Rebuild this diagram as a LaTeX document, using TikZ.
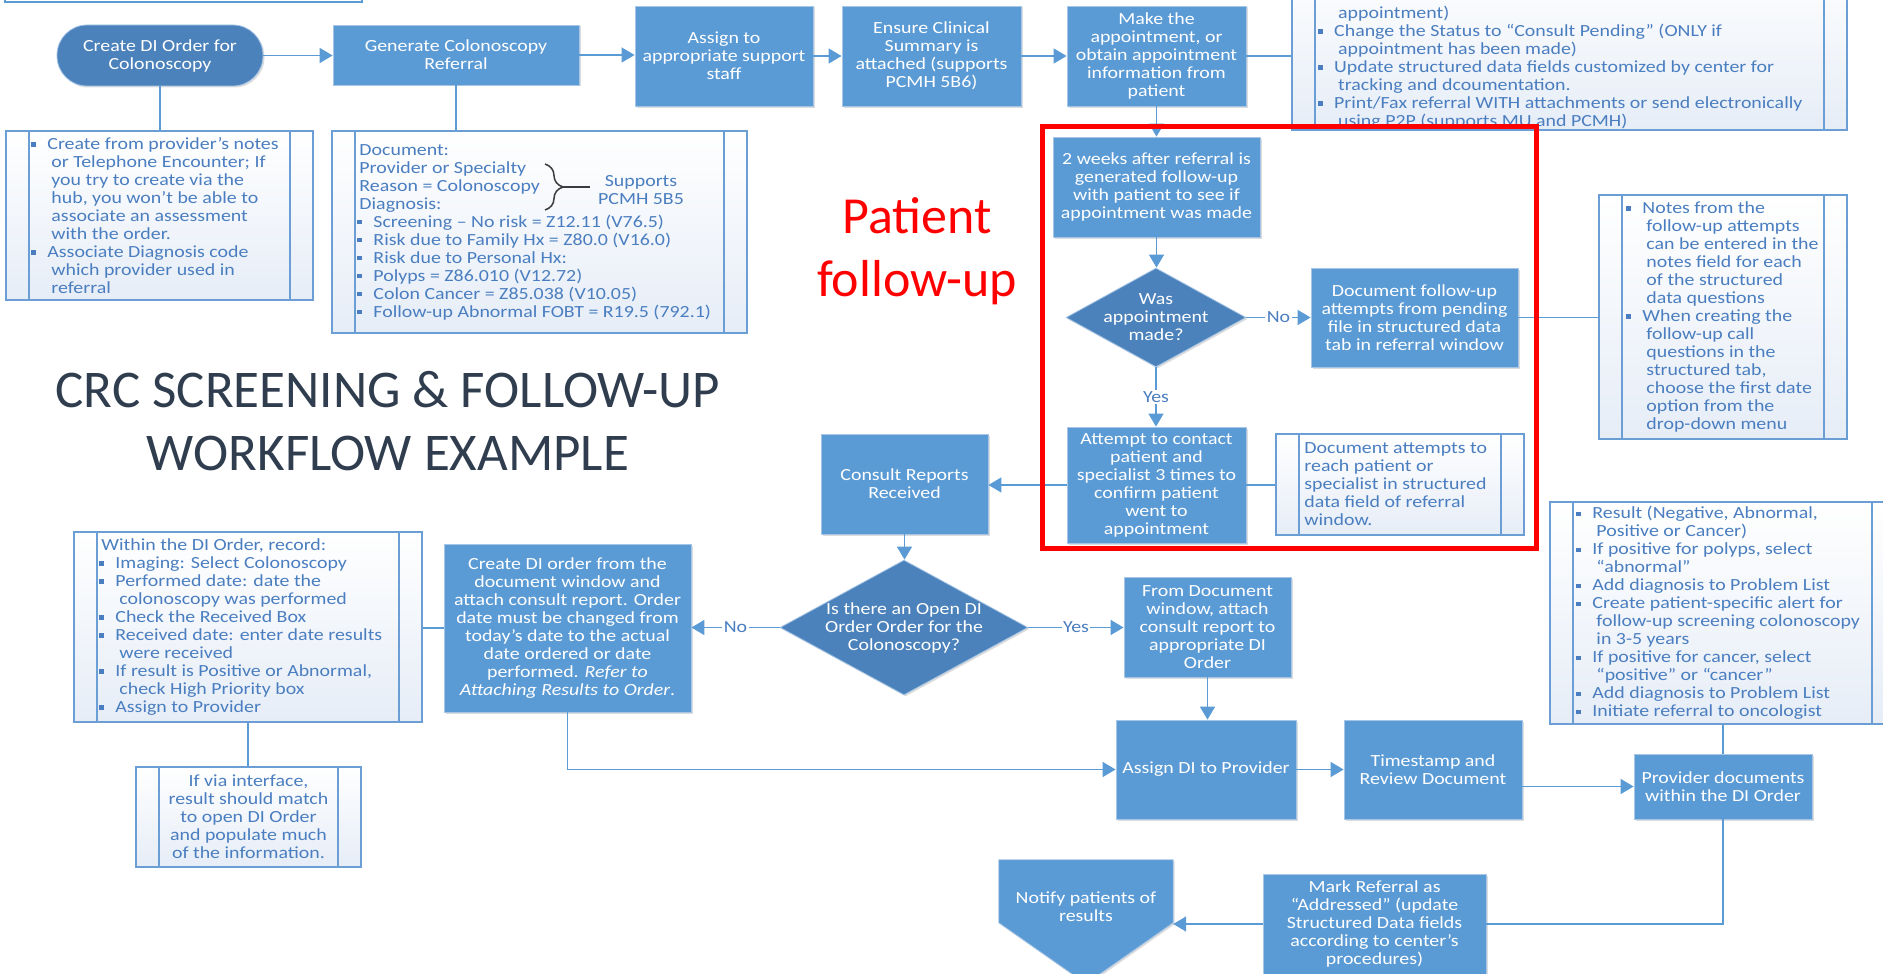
\documentclass[tikz,border=0pt]{standalone}
\usepackage{fontspec}
\setmainfont{Carlito}
\newfontfamily\dfont[FakeStretch=1.17]{Carlito}
\usetikzlibrary{arrows.meta,shapes.geometric,shadows,backgrounds,decorations.pathreplacing}

\definecolor{boxblue}{HTML}{5B9BD5}
\definecolor{deepblue}{HTML}{4C82BB}
\definecolor{boxedge}{HTML}{A7C6E6}
\definecolor{noteline}{HTML}{6C9ED6}
\definecolor{notetext}{HTML}{4A7EC0}
\definecolor{notefill}{HTML}{E6EDF7}
\definecolor{titlecol}{HTML}{2F3D4E}
\definecolor{bracecol}{HTML}{3C3C3C}

% bullet square and hanging indent for note lists
\newcommand\bul{\makebox[16pt][l]{\rule[2.6pt]{4.5pt}{4.5pt}}}
\newcommand\ind{\hspace*{20pt}}

\begin{document}
\begin{tikzpicture}[x=1pt,y=-1pt,
  txt/.style={font=\dfont\fontsize{17}{18}\selectfont},
  sz/.style 2 args={minimum width=#1,minimum height=#2},
  boxshadow/.style={drop shadow={shadow xshift=1.5pt,shadow yshift=-1.5pt,opacity=0.3,fill=black!45}},
  proc/.style={txt,rectangle,fill=boxblue,draw=boxedge,line width=0.8pt,text=white,align=center,inner sep=2pt,boxshadow},
  term/.style={txt,rectangle,rounded corners=30pt,fill=deepblue,draw=boxedge,line width=0.8pt,text=white,align=center,inner sep=2pt,boxshadow},
  decision/.style={diamond,fill=deepblue,draw=boxedge,line width=0.8pt,inner sep=0pt,boxshadow},
  dtext/.style={txt,text=white,align=center,inner sep=0pt},
  notebox/.style={rectangle,draw=noteline,line width=1.5pt,top color=white,bottom color=notefill,inner sep=0pt,
    path picture={
      \draw[noteline,line width=1.5pt]
        ([xshift=23pt]path picture bounding box.north west) -- ([xshift=23pt]path picture bounding box.south west)
        ([xshift=-23pt]path picture bounding box.north east) -- ([xshift=-23pt]path picture bounding box.south east);}},
  notetxt/.style={txt,anchor=west,align=left,text=notetext,inner sep=0pt},
  conn/.style={draw=boxblue,line width=1.5pt},
  arr/.style={conn,-{Triangle[length=13pt,width=15pt]}},
  lbl/.style={txt,fill=white,inner sep=1.5pt,text=notetext},
]
\useasboundingbox (0,0) rectangle (1883,974);
\clip (0,0) rectangle (1883,974);

% frame cut by the top edge
\node[draw=boxblue,line width=2.5pt,fill=white,sz={357}{46}] (headframe) at (183.5,-21) {};

% headings
\node[font=\fontsize{53}{63}\selectfont,text=titlecol,align=center] (title) at (388,421.5)
  {CRC SCREENING \& FOLLOW-UP\\WORKFLOW EXAMPLE};
\node[font=\fontsize{52}{63}\selectfont,text=red,align=center] (futitle) at (917,251.5)
  {Patient\\follow-up};

% ---------- top row ----------
\node[term,sz={206}{61}] (term) at (160,55.5) {Create DI Order for\\Colonoscopy};
\node[proc,sz={246}{60}] (gen) at (456,55) {Generate Colonoscopy\\Referral};
\node[proc,sz={178}{100}] (assign) at (724,56) {Assign to\\appropriate support\\staff};
\node[proc,sz={179}{100}] (ensure) at (931.5,56) {Ensure Clinical\\Summary is\\attached (supports\\PCMH 5B6)};
\node[proc,sz={179}{100}] (make) at (1156.5,56) {Make the\\appointment, or\\obtain appointment\\information from\\patient};

\node[notebox,sz={555}{170}] (topnote) at (1569.5,45) {};
\node[notetxt] (topnotet) at (1318,67.5) {%
\ind appointment)\\
\bul Change the Status to “Consult Pending” (ONLY if\\
\ind appointment has been made)\\
\bul Update structured data fields customized by center for\\
\ind tracking and dcoumentation.\\
\bul Print/Fax referral WITH attachments or send electronically\\
\ind using P2P (supports MU and PCMH)};

\node[notebox,sz={307}{169}] (note1) at (159.5,215.5) {};
\node[notetxt] (note1t) at ([xshift=26pt]note1.west) {%
\bul Create from provider’s notes\\
\ind or Telephone Encounter; If\\
\ind you try to create via the\\
\ind hub, you won’t be able to\\
\ind associate an assessment\\
\ind with the order.\\
\bul Associate Diagnosis code\\
\ind which provider used in\\
\ind referral};

\node[notebox,sz={415}{202}] (note2) at (539.5,232) {};
\node[notetxt] (note2t) at ([xshift=26pt]note2.west) {%
\hspace*{2pt}Document:\\
\hspace*{2pt}Provider or Specialty\\
\hspace*{2pt}Reason = Colonoscopy\\
\hspace*{2pt}Diagnosis:\\
\bul Screening – No risk = Z12.11 (V76.5)\\
\bul Risk due to Family Hx = Z80.0 (V16.0)\\
\bul Risk due to Personal Hx:\\
\bul Polyps = Z86.010 (V12.72)\\
\bul Colon Cancer = Z85.038 (V10.05)\\
\bul Follow-up Abnormal FOBT = R19.5 (792.1)};
% brace grouping the first three entries
\draw[bracecol,line width=1.5pt,decorate,decoration={brace,amplitude=18pt}] (545,164) -- (545,210);
\draw[bracecol,line width=1.5pt] (563,187) -- (590,187);
\node[txt,text=notetext,align=center,inner sep=0pt] (supp) at (641,190.5) {Supports\\PCMH 5B5};

% ---------- patient follow-up ----------
\node[proc,sz={207}{100}] (twoweeks) at (1156.5,187) {2 weeks after referral is\\generated follow-up\\with patient to see if\\appointment was made};
\node[decision,sz={180}{99}] (dia1) at (1156,317.5) {};
\node[dtext] (dia1t) at (dia1.center) {Was\\appointment\\made?};
\node[proc,sz={207}{99}] (docfu) at (1414.5,317.5) {Document follow-up\\attempts from pending\\file in structured data\\tab in referral window};
\node[proc,sz={179}{116}] (attempt) at (1156.5,485) {Attempt to contact\\patient and\\specialist 3 times to\\confirm patient\\went to\\appointment};

\node[notebox,sz={248}{244}] (note5) at (1723,317) {};
\node[notetxt] (note5t) at ([xshift=28pt]note5.west) {%
\bul Notes from the\\
\ind follow-up attempts\\
\ind can be entered in the\\
\ind notes field for each\\
\ind of the structured\\
\ind data questions\\
\bul When creating the\\
\ind follow-up call\\
\ind questions in the\\
\ind structured tab,\\
\ind choose the first date\\
\ind option from the\\
\ind drop-down menu};

\node[notebox,sz={248}{101}] (docatt) at (1400,484.5) {};
\node[notetxt] (docattt) at ([xshift=29pt]docatt.west) {%
Document attempts to\\
reach patient or\\
specialist in structured\\
data field of referral\\
window.};

% ---------- results ----------
\node[proc,sz={167}{100}] (consult) at (904.5,484) {Consult Reports\\Received};
\node[decision,sz={248}{135}] (dia2) at (904,627.5) {};
\node[dtext] (dia2t) at (dia2.center) {Is there an Open DI\\Order Order for the\\Colonoscopy?};
\node[proc,sz={247}{168}] (createdi) at (567.5,628) {Create DI order from the\\document window and\\attach consult report. Order\\date must be changed from\\today’s date to the actual\\date ordered or date\\performed. \textit{Refer to}\\\textit{Attaching Results to Order}.};
\node[proc,sz={167}{100}] (fromdoc) at (1207.5,627) {From Document\\window, attach\\consult report to\\appropriate DI\\Order};

\node[notebox,sz={348}{190}] (within) at (248,627) {};
\node[notetxt] (withint) at ([xshift=26pt]within.west) {%
\hspace*{2pt}Within the DI Order, record:\\
\bul Imaging: Select Colonoscopy\\
\bul Performed date: date the\\
\ind colonoscopy was performed\\
\bul Check the Received Box\\
\bul Received date: enter date results\\
\ind were received\\
\bul If result is Positive or Abnormal,\\
\ind check High Priority box\\
\bul Assign to Provider};

\node[notebox,sz={225}{100}] (ifvia) at (248.5,817) {};
\node[txt,text=notetext,align=center,inner sep=0pt] (ifviat) at (ifvia.center) {If via interface,\\result should match\\to open DI Order\\and populate much\\of the information.};

\node[proc,sz={180}{99}] (assigndi) at (1206,769.5) {Assign DI to Provider};
\node[proc,sz={178}{99}] (timestamp) at (1433,769.5) {Timestamp and\\Review Document};
\node[proc,sz={178}{65}] (provider) at (1723,786.5) {Provider documents\\within the DI Order};

\node[notebox,sz={345}{222}] (note8) at (1722.5,613) {};
\node[notetxt] (note8t) at ([xshift=27pt]note8.west) {%
\bul Result (Negative, Abnormal,\\
\ind Positive or Cancer)\\
\bul If positive for polyps, select\\
\ind “abnormal”\\
\bul Add diagnosis to Problem List\\
\bul Create patient-specific alert for\\
\ind follow-up screening colonoscopy\\
\ind in 3-5 years\\
\bul If positive for cancer, select\\
\ind “positive” or “cancer”\\
\bul Add diagnosis to Problem List\\
\bul Initiate referral to oncologist};

\node[proc,sz={223}{100}] (mark) at (1374.5,924) {Mark Referral as\\“Addressed” (update\\Structured Data fields\\according to center’s\\procedures)};

\node[txt,text=white,align=center,sz={174}{94},inner sep=0pt] (notify) at (1086,907) {Notify patients of\\results};
\begin{scope}[on background layer]
  \filldraw[fill=boxblue,draw=boxedge,line width=0.8pt,boxshadow]
    (notify.north west) -- (notify.north east) -- ([yshift=-63pt]notify.north east)
    -- ([yshift=-124pt]notify.north) -- ([yshift=-63pt]notify.north west) -- cycle;
\end{scope}

% ---------- connectors ----------
\draw[arr] (term.east) -- (term.east -| gen.west);
\draw[arr] (gen.east) -- (gen.east -| assign.west);
\draw[arr] (assign.east) -- (assign.east -| ensure.west);
\draw[arr] (ensure.east) -- (ensure.east -| make.west);
\draw[conn] (make.east) -- (make.east -| topnote.west);
\draw[conn] (term.south) -- (term.south |- note1.north);
\draw[conn] (gen.south) -- (gen.south |- note2.north);
\draw[arr] (make.south) -- (make.south |- twoweeks.north);
\draw[arr] (twoweeks.south) -- (twoweeks.south |- dia1.north);
\draw[arr] (dia1.east) -- (dia1.east -| docfu.west) node[lbl,midway] (no1) {No};
\draw[conn] (docfu.east) -- (docfu.east -| note5.west);
\draw[arr] (dia1.south) -- (dia1.south |- attempt.north) node[lbl,midway] (yes1) {Yes};
\draw[conn] (attempt.east) -- (attempt.east -| docatt.west);
\draw[arr] (attempt.west) -- (attempt.west -| consult.east);
\draw[arr] (consult.south) -- (consult.south |- dia2.north);
\draw[arr] (dia2.west) -- (dia2.west -| createdi.east) node[lbl,midway] (no2) {No};
\draw[arr] (dia2.east) -- (dia2.east -| fromdoc.west) node[lbl,midway] (yes2) {Yes};
\draw[conn] (createdi.west) -- (createdi.west -| within.east);
\draw[conn] (within.south) -- (within.south |- ifvia.north);
\draw[arr] (fromdoc.south) -- (fromdoc.south |- assigndi.north);
\draw[arr] (createdi.south) |- (assigndi.west);
\draw[arr] (assigndi.east) -- (assigndi.east -| timestamp.west);
\draw[arr] (provider.west -| timestamp.east) -- (provider.west);
\draw[conn] (provider.north |- note8.south) -- (provider.north);
\draw[conn] (provider.south) |- (mark.east);
\draw[arr] (mark.west) -- (mark.west -| notify.east);

% highlight frame around the follow-up steps
\node[draw=red,line width=5pt,sz={494}{422},inner sep=0pt] (fuframe) at (1289,337) {};

\end{tikzpicture}
\end{document}
